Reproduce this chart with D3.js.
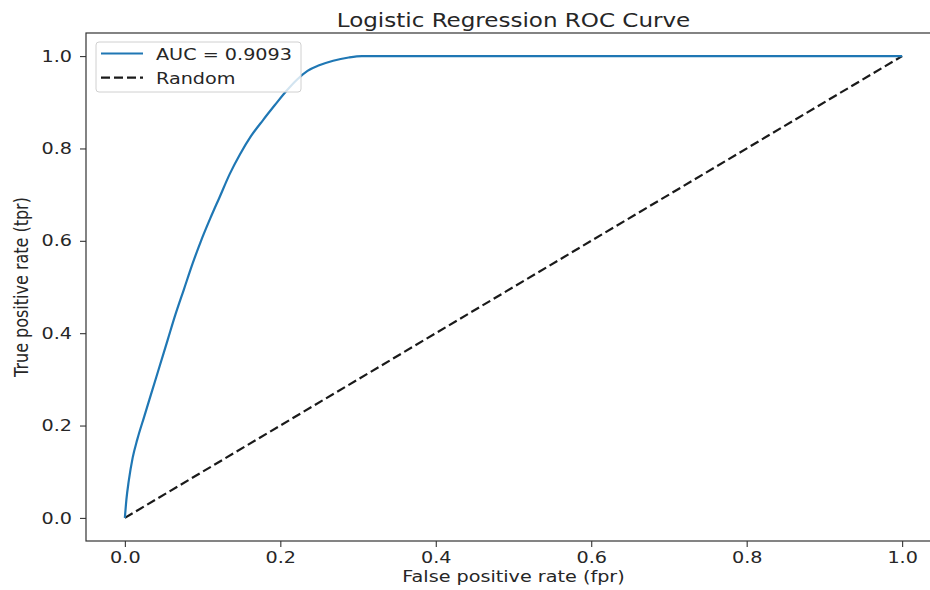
<!DOCTYPE html>
<html>
<head>
<meta charset="utf-8">
<script src="https://cdn.jsdelivr.net/npm/d3@7"></script>
<style>
  body { margin: 0; background: #fff; }
  text { font-family: "DejaVu Sans", sans-serif; fill: #262626; }
</style>
</head>
<body>
<svg class="canvas" width="930" height="590"></svg>
<script>
// *** DATA ***
var title = "Logistic Regression ROC Curve";
var xLabel = "False positive rate (fpr)";
var yLabel = "True positive rate (tpr)";
var aucLabel = "AUC = 0.9093";
var randomLabel = "Random";
var tickValues = [0.0, 0.2, 0.4, 0.6, 0.8, 1.0];

// roc curve
var fpr = [0, 0.002, 0.005, 0.010, 0.016, 0.025, 0.035, 0.045, 0.055, 0.065, 0.076, 0.087, 0.098, 0.110,
  0.122, 0.135, 0.148, 0.162, 0.178, 0.193, 0.208, 0.222, 0.235, 0.250, 0.268, 0.288, 0.305, 1.0];
var tpr = [0, 0.040, 0.080, 0.130, 0.170, 0.220, 0.275, 0.330, 0.385, 0.440, 0.495, 0.550, 0.600, 0.649,
  0.695, 0.745, 0.787, 0.826, 0.862, 0.894, 0.925, 0.950, 0.968, 0.980, 0.990, 0.997, 1.0, 1.0];
var randomX = [0, 1];
var randomY = [0, 1];

// *** SVG ***
// --- Constants ---
// (window.top is read-only, so no plain "top" here)
var plotLeft = 86, plotRight = 941, plotTop = 33, plotBottom = 541;
var stretch = 1.2; // picture is wider than tall, text too
var fontSize = 16;
var blue = "#1f77b4";
var dash = "9,4";

var x = d3.scaleLinear().domain([-0.05, 1.05]).range([plotLeft, plotRight]);
var y = d3.scaleLinear().domain([-0.05, 1.05]).range([plotBottom, plotTop]);

var svg = d3.select(".canvas");

// --- Lines ---
var line = d3.line()
  .x(function(d) { return x(d[0]); })
  .y(function(d) { return y(d[1]); });

svg.append("path")
  .attr("d", line(d3.zip(randomX, randomY)))
  .attr("fill", "none")
  .attr("stroke", "#1a1a1a")
  .attr("stroke-width", 2.2)
  .attr("stroke-dasharray", dash);

svg.append("path")
  .attr("d", line.curve(d3.curveMonotoneX)(d3.zip(fpr, tpr)))
  .attr("fill", "none")
  .attr("stroke", blue)
  .attr("stroke-width", 2.2)
  .attr("stroke-linejoin", "round");

// --- Axes ---
var fmt = d3.format(".1f");

var xAxis = svg.append("g")
  .attr("transform", "translate(0," + plotBottom + ")")
  .call(d3.axisBottom(x).tickValues(tickValues).tickFormat(fmt).tickSize(6).tickPadding(5));

var yAxis = svg.append("g")
  .attr("transform", "translate(" + plotLeft + ",0)")
  .call(d3.axisLeft(y).tickValues(tickValues).tickFormat(fmt).tickSize(6).tickPadding(8));

[xAxis, yAxis].forEach(function(ax) {
  ax.select(".domain").remove();
  ax.selectAll("line").attr("stroke", "#333").attr("stroke-width", 1.1);
  ax.selectAll("text")
    .attr("font-size", fontSize)
    .attr("font-family", "DejaVu Sans")
    .style("fill", "#262626");
});
xAxis.selectAll("text").attr("transform", "scale(" + stretch + ",1)")
  .attr("x", 0);
yAxis.selectAll("text")
  .attr("x", -14 / stretch)
  .attr("transform", "scale(" + stretch + ",1)");

// spines (right one falls outside the picture)
svg.append("rect")
  .attr("x", plotLeft).attr("y", plotTop)
  .attr("width", plotRight - plotLeft).attr("height", plotBottom - plotTop)
  .attr("fill", "none")
  .attr("stroke", "#333")
  .attr("stroke-width", 1.2);

// --- Texts ---
svg.append("text")
  .attr("transform", "translate(" + ((plotLeft + plotRight) / 2) + ",27) scale(" + stretch + ",1)")
  .attr("text-anchor", "middle")
  .attr("font-size", fontSize * 1.2)
  .text(title);

svg.append("text")
  .attr("transform", "translate(" + ((plotLeft + plotRight) / 2) + ",582) scale(" + stretch + ",1)")
  .attr("text-anchor", "middle")
  .attr("font-size", fontSize)
  .text(xLabel);

svg.append("text")
  .attr("transform", "translate(28," + ((plotTop + plotBottom) / 2) + ") scale(" + stretch + ",1) rotate(-90)")
  .attr("text-anchor", "middle")
  .attr("font-size", fontSize)
  .text(yLabel);

// --- Legend ---
var legend = svg.append("g");
legend.append("rect")
  .attr("x", 96).attr("y", 42)
  .attr("width", 205).attr("height", 50)
  .attr("rx", 3)
  .attr("fill", "#fff").attr("fill-opacity", 0.8)
  .attr("stroke", "#d0d0d0");

var entries = [
  { label: aucLabel, color: blue, dash: null },
  { label: randomLabel, color: "#1a1a1a", dash: dash }
];
entries.forEach(function(e, i) {
  var ly = 53.5 + i * 24.2;
  legend.append("line")
    .attr("x1", 101).attr("x2", 143)
    .attr("y1", ly).attr("y2", ly)
    .attr("stroke", e.color)
    .attr("stroke-width", 2.2)
    .attr("stroke-dasharray", e.dash);
  legend.append("text")
    .attr("transform", "translate(156," + (ly + 6.3) + ") scale(" + stretch + ",1)")
    .attr("font-size", fontSize)
    .text(e.label);
});
</script>
</body>
</html>
